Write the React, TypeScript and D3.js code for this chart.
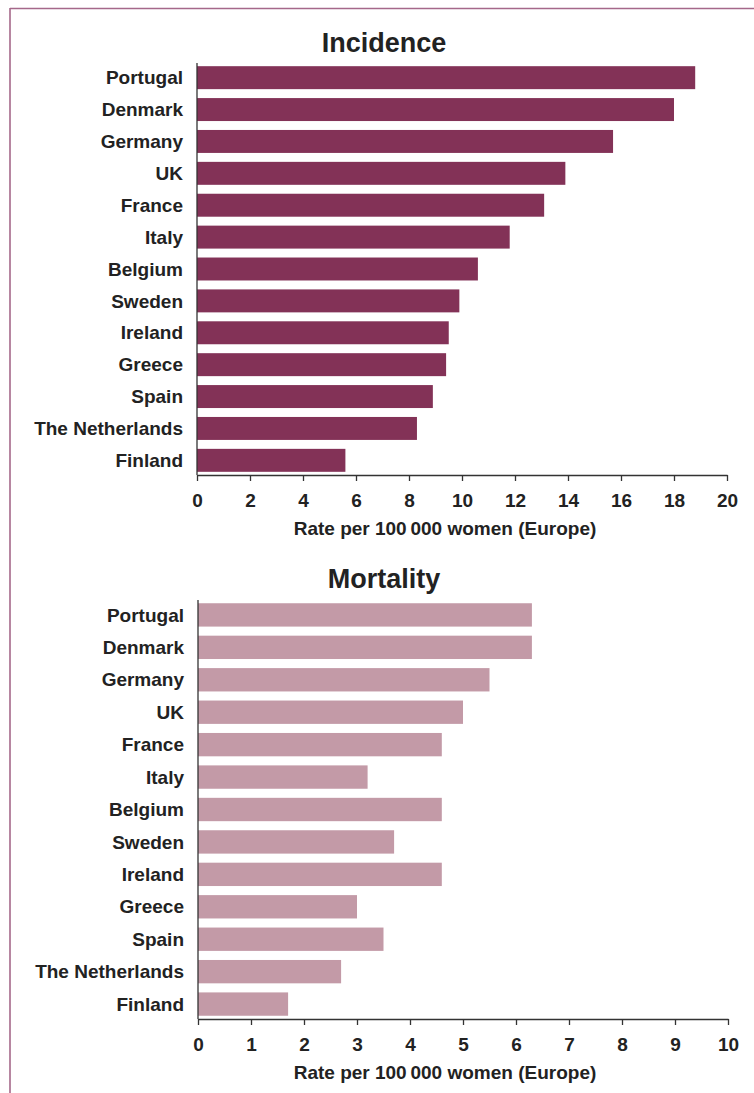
import React, { useEffect, useRef } from "react";
import * as d3 from "d3";

// countries, top to bottom
const countries = [
  "Portugal", "Denmark", "Germany", "UK", "France", "Italy", "Belgium",
  "Sweden", "Ireland", "Greece", "Spain", "The Netherlands", "Finland",
];

// rate per 100 000 women
const incidence = [18.8, 18.0, 15.7, 13.9, 13.1, 11.8, 10.6, 9.9, 9.5, 9.4, 8.9, 8.3, 5.6];
const mortality = [6.3, 6.3, 5.5, 5.0, 4.6, 3.2, 4.6, 3.7, 4.6, 3.0, 3.5, 2.7, 1.7];

const incidenceTicks = [0, 2, 4, 6, 8, 10, 12, 14, 16, 18, 20];
const mortalityTicks = [0, 1, 2, 3, 4, 5, 6, 7, 8, 9, 10];

const axisTitle = "Rate per 100\u2009000 women (Europe)";
const FONT = "'Liberation Sans', Arial, Helvetica, sans-serif";
const TEXT = "#222";

const App = () => {
  const svgRef = useRef<SVGSVGElement>(null);

  useEffect(() => {
    const svg = d3.select(svgRef.current);
    svg.selectAll("*").remove();

    // frame lines on top and left
    svg.append("line")
      .attr("x1", 10).attr("x2", 754).attr("y1", 8.5).attr("y2", 8.5)
      .attr("stroke", "#a5688a").attr("stroke-width", 1.6);
    svg.append("line")
      .attr("x1", 10).attr("x2", 10).attr("y1", 8).attr("y2", 1093)
      .attr("stroke", "#a5688a").attr("stroke-width", 1.6);

    const panel = (opts: {
      title: string; values: number[]; ticks: number[]; color: string;
      x0: number; x1: number; y0: number; y1: number; titleY: number;
    }) => {
      const { title, values, ticks, color, x0, x1, y0, y1, titleY } = opts;
      const x = d3.scaleLinear().domain([0, ticks[ticks.length - 1]]).range([x0, x1]);
      const y = d3.scaleBand().domain(countries).range([y0, y1]).paddingInner(0.28).paddingOuter(0.1);

      const g = svg.append("g");

      g.append("text")
        .attr("x", 384).attr("y", titleY)
        .attr("text-anchor", "middle")
        .attr("font-family", FONT).attr("font-size", 27).attr("font-weight", "bold")
        .attr("fill", TEXT)
        .text(title);

      // bars
      g.selectAll("rect")
        .data(values)
        .join("rect")
        .attr("x", x(0))
        .attr("y", (_d, i) => y(countries[i])!)
        .attr("width", d => x(d) - x(0))
        .attr("height", y.bandwidth())
        .attr("fill", color);

      // category labels
      g.selectAll("text.cat")
        .data(countries)
        .join("text")
        .attr("class", "cat")
        .attr("x", x0 - 14)
        .attr("y", d => y(d)! + y.bandwidth() / 2)
        .attr("dy", "0.35em")
        .attr("text-anchor", "end")
        .attr("font-family", FONT).attr("font-size", 19).attr("font-weight", "bold")
        .attr("fill", TEXT)
        .text(d => d);

      // y axis line
      g.append("line")
        .attr("x1", x0).attr("x2", x0).attr("y1", y0).attr("y2", y1)
        .attr("stroke", "#333").attr("stroke-width", 1.3);

      // x axis
      const xAxis = g.append("g")
        .attr("transform", `translate(0, ${y1})`)
        .call(d3.axisBottom(x).tickValues(ticks).tickSize(6).tickSizeOuter(0).tickPadding(13));
      xAxis.select(".domain").attr("stroke", "#333").attr("stroke-width", 1.3);
      xAxis.selectAll(".tick line").attr("stroke", "#333").attr("stroke-width", 1.3);
      xAxis.selectAll(".tick text")
        .attr("font-family", FONT).attr("font-size", 19).attr("font-weight", "bold")
        .attr("fill", TEXT);

      g.append("text")
        .attr("x", 445).attr("y", y1 + 60)
        .attr("text-anchor", "middle")
        .attr("font-family", FONT).attr("font-size", 19).attr("font-weight", "bold")
        .attr("fill", TEXT)
        .text(axisTitle);
    };

    panel({
      title: "Incidence", values: incidence, ticks: incidenceTicks, color: "#833257",
      x0: 197, x1: 727, y0: 63, y1: 475, titleY: 52,
    });
    panel({
      title: "Mortality", values: mortality, ticks: mortalityTicks, color: "#c39aa7",
      x0: 198, x1: 728, y0: 600, y1: 1019, titleY: 588,
    });
  }, []);

  return (
    <svg
      ref={svgRef}
      width={754}
      height={1093}
      style={{ position: "absolute", left: 0, top: 0, display: "block", background: "#fff" }}
    />
  );
};

export default App;
